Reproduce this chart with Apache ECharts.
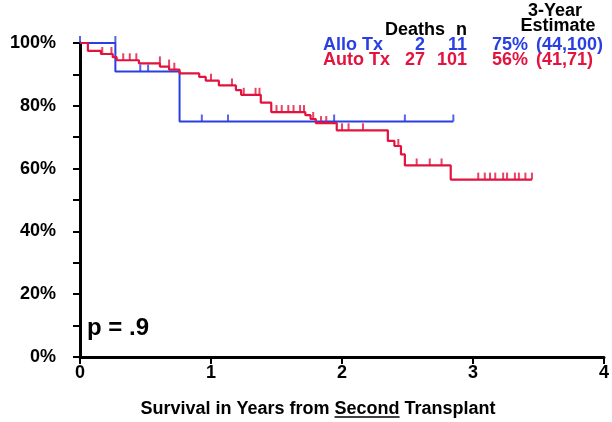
<!DOCTYPE html>
<html><head><meta charset="utf-8">
<script src="https://cdn.jsdelivr.net/npm/echarts@6/dist/echarts.min.js"></script>
<style>html,body{margin:0;padding:0;background:#fff}#c{width:612px;height:422px}</style>
</head><body><div id="c"></div>
<script>
// ---- data ----
const xTicks = [0, 1, 2, 3, 4];
const yTicks = [0, 20, 40, 60, 80, 100];
const xTitleParts = ['Survival in Years from ', 'Second', ' Transplant'];
const pValue = 'p = .9';

// Kaplan-Meier steps: [time (years), survival % after the step]
const alloSteps = [[0, 100], [0.27, 90.9], [0.76, 75]];
const alloEnd = 2.85;
const alloCensor = [0, 0.27, 0.46, 0.52, 0.93, 1.13, 1.94, 2.48, 2.85];

const autoSteps = [[0, 100], [0.06, 97.5], [0.16, 96.5], [0.25, 95.5], [0.28, 94.5], [0.45, 93.5],
  [0.61, 92.5], [0.68, 91.5], [0.76, 90.3], [0.91, 89.2], [0.96, 88], [1.06, 86.5], [1.19, 85],
  [1.23, 83.5], [1.38, 81], [1.46, 78], [1.72, 77], [1.76, 75.8], [1.80, 74.5], [1.96, 72.2],
  [2.35, 68.8], [2.40, 67.2], [2.45, 64.5], [2.48, 61], [2.83, 56.5]];
const autoEnd = 3.45;
const autoCensor = [0.17, 0.24, 0.33, 0.38, 0.43, 0.61, 0.68, 0.72, 1.00, 1.16, 1.25, 1.34, 1.37,
  1.50, 1.54, 1.59, 1.63, 1.68, 1.71, 1.78, 1.84, 1.88, 2.00, 2.05, 2.16, 2.43, 2.57, 2.67, 2.76,
  3.04, 3.09, 3.13, 3.17, 3.23, 3.26, 3.32, 3.35, 3.40, 3.45];

const groupNames = ['Allo Tx', 'Auto Tx'];
const deaths = ['2', '27'];
const nPatients = ['11', '101'];
const estimates = ['75%', '56%'];
const cis = ['(44,100)', '(41,71)'];
const headerTexts = ['3-Year', 'Estimate', 'Deaths', 'n'];

const BLUE = '#2a3fe2';
const RED = '#e2133f';
const FONT = '"Liberation Sans", Arial, Helvetica, sans-serif';

function stepLine(steps, end) {
  const d = steps.map(p => [p[0], p[1]]);
  d.push([end, steps[steps.length - 1][1]]);
  return d;
}
function survAt(steps, t) {
  let s = steps[0][1];
  for (const p of steps) { if (p[0] < t) s = p[1]; }
  return s;
}
function censorData(steps, times) { return times.map(t => [t, survAt(steps, t)]); }

const chart = echarts.init(document.getElementById('c'), null, { renderer: 'canvas' });

// measure title
const ctx = document.createElement('canvas').getContext('2d');
ctx.font = 'bold 18px ' + FONT;
const w = xTitleParts.map(s => ctx.measureText(s).width);
const totalW = w[0] + w[1] + w[2];
const titleCx = 318, titleY = 409;
const x0 = titleCx - totalW / 2;

const txt = (text, x, y, color, align, size) => ({
  type: 'text', x: x, y: y,
  style: { text: text, fill: color, font: 'bold ' + (size || 18) + 'px ' + FONT, textAlign: align || 'left', textVerticalAlign: 'middle' }
});

const graphics = [
  txt(xTitleParts[0], x0, titleY, '#000'),
  txt(xTitleParts[1], x0 + w[0], titleY, '#000'),
  txt(xTitleParts[2], x0 + w[0] + w[1], titleY, '#000'),
  { type: 'line', shape: { x1: x0 + w[0], y1: titleY + 8, x2: x0 + w[0] + w[1], y2: titleY + 8 }, style: { stroke: '#000', lineWidth: 1.5 } },
  txt(pValue, 87, 328, '#000', 'left', 24),
  txt(headerTexts[0], 555, 11, '#000', 'center'),
  txt(headerTexts[1], 558, 26, '#000', 'center'),
  txt(headerTexts[2], 385, 30, '#000', 'left'),
  txt(headerTexts[3], 467, 30, '#000', 'right')
];
const rowY = [45, 60];
const rowColor = [BLUE, RED];
for (let i = 0; i < 2; i++) {
  graphics.push(txt(groupNames[i], 323, rowY[i], rowColor[i], 'left'));
  graphics.push(txt(deaths[i], 425, rowY[i], rowColor[i], 'right'));
  graphics.push(txt(nPatients[i], 467, rowY[i], rowColor[i], 'right'));
  graphics.push(txt(estimates[i], 492, rowY[i], rowColor[i], 'left'));
  graphics.push(txt(cis[i], 536, rowY[i], rowColor[i], 'left'));
}

const censorSeries = (name, steps, times, color) => ({
  name: name, type: 'scatter', data: censorData(steps, times),
  symbol: 'rect', symbolSize: [2, 7], symbolOffset: [0, -3.5],
  itemStyle: { color: color }, silent: true, z: 3
});

chart.setOption({
  animation: false,
  backgroundColor: '#fff',
  grid: { left: 80, right: 5, top: 43, bottom: 65, containLabel: false },
  xAxis: {
    type: 'value', min: xTicks[0], max: xTicks[xTicks.length - 1], interval: 1,
    axisLine: { show: true, onZero: false, lineStyle: { color: '#000', width: 3 } },
    axisTick: { show: true, length: 7, lineStyle: { color: '#000', width: 2 } },
    axisLabel: { color: '#000', fontWeight: 'bold', fontSize: 18, fontFamily: FONT, margin: 7,
      formatter: v => xTicks.includes(v) ? String(v) : '' },
    splitLine: { show: false }
  },
  yAxis: {
    type: 'value', min: yTicks[0], max: yTicks[yTicks.length - 1], interval: 20,
    axisLine: { show: true, lineStyle: { color: '#000', width: 3 } },
    axisTick: { show: true, length: 7, lineStyle: { color: '#000', width: 2 } },
    minorTick: { show: true, splitNumber: 2, length: 7, lineStyle: { color: '#000', width: 2 } },
    axisLabel: { color: '#000', fontWeight: 'bold', fontSize: 18, fontFamily: FONT, margin: 24,
      formatter: v => yTicks.includes(v) ? v + '%' : '' },
    splitLine: { show: false }
  },
  series: [
    { name: 'Allo Tx', type: 'line', step: 'end', data: stepLine(alloSteps, alloEnd), symbol: 'none',
      lineStyle: { color: BLUE, width: 2 }, z: 2, silent: true },
    { name: 'Auto Tx', type: 'line', step: 'end', data: stepLine(autoSteps, autoEnd), symbol: 'none',
      lineStyle: { color: RED, width: 2.2 }, z: 2, silent: true },
    censorSeries('Allo censor', alloSteps, alloCensor, BLUE),
    censorSeries('Auto censor', autoSteps, autoCensor, RED)
  ],
  graphic: graphics
});
</script></body></html>
